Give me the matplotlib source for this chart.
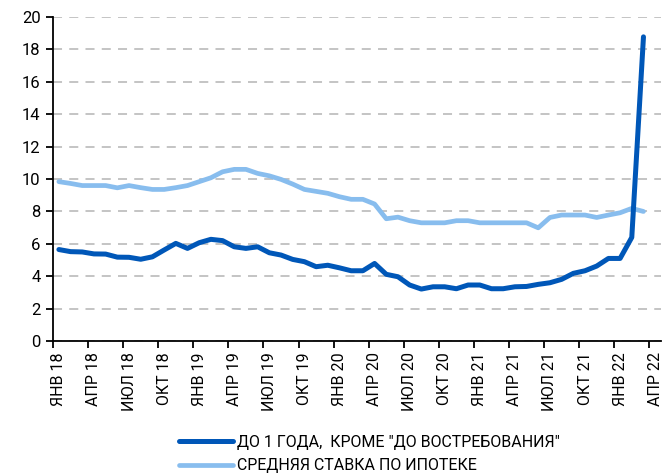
import numpy as np
import matplotlib
matplotlib.use("Agg")
import matplotlib.pyplot as plt

plt.rcParams['font.family'] = ['Roboto', 'DejaVu Sans']

# monthly, Jan 2018 .. Mar 2022
deposits_1y = [5.65, 5.52, 5.50, 5.38, 5.37, 5.18, 5.17, 5.05, 5.20, 5.62,
               6.03, 5.72, 6.07, 6.28, 6.20, 5.82, 5.72, 5.82, 5.45, 5.31,
               5.04, 4.90, 4.59, 4.68, 4.52, 4.34, 4.34, 4.79, 4.12, 3.97,
               3.46, 3.21, 3.35, 3.35, 3.23, 3.46, 3.46, 3.23, 3.23, 3.35,
               3.37, 3.50, 3.60, 3.81, 4.18, 4.34, 4.63, 5.10, 5.10, 6.40,
               18.78]
mortgage = [9.84, 9.73, 9.60, 9.60, 9.60, 9.46, 9.60, 9.47, 9.36, 9.36,
            9.47, 9.60, 9.84, 10.08, 10.45, 10.60, 10.60, 10.35, 10.20, 9.98,
            9.69, 9.36, 9.24, 9.12, 8.91, 8.75, 8.75, 8.46, 7.55, 7.65,
            7.43, 7.30, 7.30, 7.30, 7.43, 7.43, 7.30, 7.30, 7.30, 7.30,
            7.30, 6.99, 7.63, 7.78, 7.78, 7.78, 7.63, 7.78, 7.92, 8.19,
            8.00]

tick_labels = ['ЯНВ 18', 'АПР 18', 'ИЮЛ 18', 'ОКТ 18',
               'ЯНВ 19', 'АПР 19', 'ИЮЛ 19', 'ОКТ 19',
               'ЯНВ 20', 'АПР 20', 'ИЮЛ 20', 'ОКТ 20',
               'ЯНВ 21', 'АПР 21', 'ИЮЛ 21', 'ОКТ 21',
               'ЯНВ 22', 'АПР 22']

label_dep = 'ДО 1 ГОДА,  КРОМЕ "ДО ВОСТРЕБОВАНИЯ"'
label_mort = 'СРЕДНЯЯ СТАВКА ПО ИПОТЕКЕ'

dark = '#0057b8'
light = '#88bdee'

fig = plt.figure(figsize=(6.63, 4.75), dpi=100)
ax = fig.add_axes([0.08, 0.282, 0.917, 0.682])

x = np.arange(len(deposits_1y))
ax.plot(x, deposits_1y, color=dark, lw=3.6, solid_capstyle='round',
        solid_joinstyle='round', label=label_dep, zorder=3)
ax.plot(x, mortgage, color=light, lw=3.4, solid_capstyle='round',
        solid_joinstyle='round', label=label_mort, zorder=2)

ax.set_xlim(-0.5, 51.5)
ax.set_ylim(0, 20)
ax.set_yticks(range(0, 21, 2))
ax.grid(axis='y', color='#bfbfbf', linestyle=(0, (5, 4)), lw=1.3)
ax.set_axisbelow(True)

# tick marks between quarters, labels at quarter starts
ax.set_xticks(np.arange(-0.5, 51, 3))
ax.set_xticklabels([])
ax.set_xticks(np.arange(0, 52, 3), minor=True)
ax.set_xticklabels(tick_labels, minor=True, rotation=90, fontsize=11.5)
ax.tick_params(axis='x', which='major', length=5, width=1.3, direction='out')
ax.tick_params(axis='x', which='minor', length=0, pad=8)
ax.tick_params(axis='y', length=5, width=1.3, labelsize=12, pad=4)

for s in ['top', 'right']:
    ax.spines[s].set_visible(False)
for s in ['left', 'bottom']:
    ax.spines[s].set_linewidth(1.3)
    ax.spines[s].set_color('black')

fig.legend(loc='lower left', bbox_to_anchor=(0.26, -0.01), frameon=False,
           fontsize=11.5, handlelength=3.4, handletextpad=0.25,
           labelspacing=0.55, borderaxespad=0.0)

fig.savefig('out.png', dpi=100)
